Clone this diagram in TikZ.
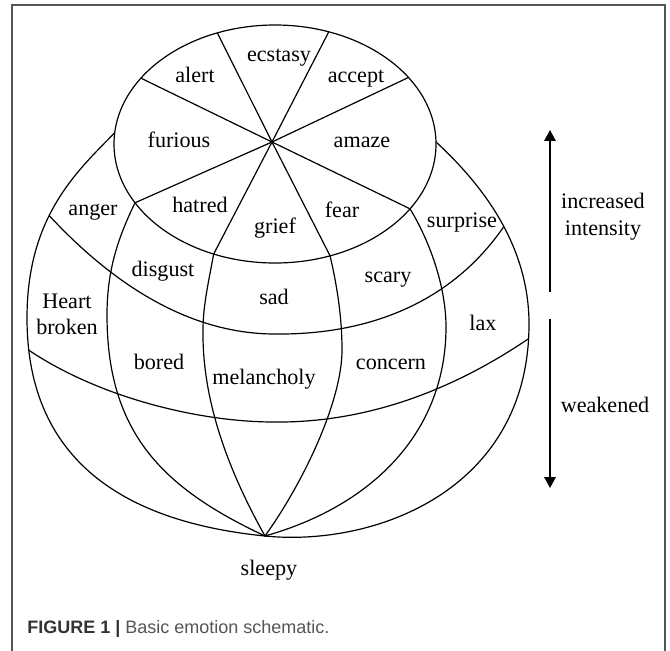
\documentclass[tikz,border=0pt]{standalone}
\usepackage{fontspec}
\setmainfont{Liberation Serif}
\newfontfamily\capfont{Liberation Sans}
\usetikzlibrary{arrows.meta}
\definecolor{framecol}{HTML}{555555}
\definecolor{capdark}{HTML}{333333}
\definecolor{caplight}{HTML}{555555}
\begin{document}
\begin{tikzpicture}[x=0.75pt,y=-0.75pt,
  curve/.style={line width=0.9pt, black, line join=round},
  lbl/.style={font=\fontsize{16.6pt}{19pt}\selectfont, inner sep=0pt, anchor=base},
  arr/.style={line width=1.1pt, black, -{Triangle[length=8.2pt,width=8.6pt]}},
  capstyle/.style={font=\capfont\fontsize{13.5pt}{16pt}\selectfont, inner sep=0pt, anchor=base west}]
\useasboundingbox (0,0) rectangle (670,650);
\fill[white] (0,0) rectangle (670,650);
\draw[framecol, line width=1pt] (12,652) -- (12,5) -- (665,5) -- (665,652);

% top ellipse
\coordinate (O) at (275,144);
\coordinate (C) at (272,142);
\draw[curve] (O) ellipse [x radius=120.75pt, y radius=89.25pt];
\path (O) ++(111:120.75pt and 89.25pt) coordinate (E1);
\path (O) ++(290:120.75pt and 89.25pt) coordinate (E2);
\path (O) ++(70.5:120.75pt and 89.25pt) coordinate (E3);
\path (O) ++(247.6:120.75pt and 89.25pt) coordinate (E4);
\path (O) ++(146.4:120.75pt and 89.25pt) coordinate (E5);
\path (O) ++(327:120.75pt and 89.25pt) coordinate (E6);
\path (O) ++(34:120.75pt and 89.25pt) coordinate (E7);
\path (O) ++(209.6:120.75pt and 89.25pt) coordinate (E8);
\path (O) ++(174.6:120.75pt and 89.25pt) coordinate (BL);
\path (O) ++(1:120.75pt and 89.25pt) coordinate (BR);
\foreach \e in {E1,E2,E3,E4,E5,E6,E7,E8} \draw[curve] (C) -- (\e);

% key points of the globe
\coordinate (S) at (265,536);
\coordinate (L) at (27,318);
\coordinate (R) at (529,324);

% outer boundary
\draw[curve] (BL) .. controls (75,173) and (27,218) .. coordinate[pos=0.57] (B1) (L)
  .. controls (27,468) and (135,523) .. coordinate[pos=0.075] (B3) (S)
  .. controls (375,547) and (529,490) .. coordinate[pos=0.97] (B4) (R)
  .. controls (529,240) and (476,179) .. coordinate[pos=0.44] (B2) (BR);

% parallels
\coordinate (P1m) at (275,334);
\coordinate (P2m) at (274,422);
\draw[curve] (B1) .. controls (108,279) and (185,334) .. (P1m)
  .. controls (365,335) and (450,305) .. (B2);
\draw[curve] (B3) .. controls (100,398) and (200,422) .. (P2m)
  .. controls (364,423) and (450,392) .. (B4);

% meridians
\coordinate (M1m) at (107,315);
\coordinate (M2m) at (203,330);
\coordinate (M3m) at (342,350);
\coordinate (M4m) at (446,327);
\draw[curve] (E8) .. controls (118,238) and (107,270) .. (M1m)
  .. controls (107,435) and (165,489) .. (S);
\draw[curve] (E4) .. controls (209,280) and (203,305) .. (M2m)
  .. controls (202,400) and (228,470) .. (S);
\draw[curve] (E2) .. controls (338,290) and (342,320) .. (M3m)
  .. controls (342,400) and (305,480) .. (S);
\draw[curve] (E6) .. controls (432,245) and (446,290) .. (M4m)
  .. controls (446,430) and (375,505) .. (S);

% labels
\node[lbl] (ecstasy) at (279,61) {ecstasy};
\node[lbl] (alert) at (195,82) {alert};
\node[lbl] (accept) at (356,82) {accept};
\node[lbl] (furious) at (179,147) {furious};
\node[lbl] (amaze) at (362,147) {amaze};
\node[lbl] (anger) at (93,215) {anger};
\node[lbl] (hatred) at (200,212) {hatred};
\node[lbl] (grief) at (275,233) {grief};
\node[lbl] (fear) at (342,217) {fear};
\node[lbl] (surprise) at (462,227) {surprise};
\node[lbl] (disgust) at (163,276) {disgust};
\node[lbl] (sad) at (274,304) {sad};
\node[lbl] (scary) at (388,282) {scary};
\node[lbl] (heart) at (67,308) {Heart};
\node[lbl] (broken) at (67,334) {broken};
\node[lbl] (lax) at (483,330) {lax};
\node[lbl] (bored) at (159,369) {bored};
\node[lbl] (melancholy) at (264,384) {melancholy};
\node[lbl] (concern) at (391,369) {concern};
\node[lbl] (sleepy) at (269,575) {sleepy};
\node[lbl] (increased) at (603,208) {increased};
\node[lbl] (intensity) at (603,235) {intensity};
\node[lbl] (weakened) at (605,412) {weakened};

% arrows
\coordinate (U0) at (550,292);
\coordinate (U1) at (550,130);
\coordinate (D0) at (550,319);
\coordinate (D1) at (550,488);
\draw[arr] (U0) -- (U1);
\draw[arr] (D0) -- (D1);

% caption
\node[capstyle] (caption) at (27,633) {\textcolor{capdark}{\textbf{FIGURE 1 |}} \textcolor{caplight}{Basic emotion schematic.}};
\end{tikzpicture}
\end{document}
